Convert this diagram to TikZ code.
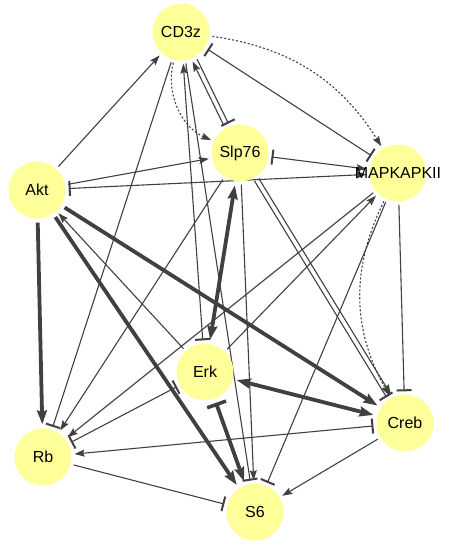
\documentclass[tikz,border=0pt]{standalone}
\usepackage{fontspec}
\setmainfont{Liberation Sans}
\usetikzlibrary{arrows.meta,backgrounds}
\definecolor{nodefill}{RGB}{255,255,153}
\definecolor{edgec}{RGB}{64,64,64}
\tikzset{
  act/.tip={Stealth[length=10bp,width=7bp,inset=1.5bp]},
  inh/.tip={Bar[width=15bp,line width=2bp]},
  actT/.tip={Stealth[length=14bp,width=10bp,inset=2bp]},
  inhT/.tip={Bar[width=20bp,line width=3.5bp]}
}
\begin{document}
\begin{tikzpicture}[x=1bp,y=1bp,
  gene/.style={circle,fill=nodefill,draw=none,minimum size=57bp,inner sep=0pt},
  lbl/.style={font=\fontsize{16bp}{19bp}\selectfont,text=black,inner sep=0pt},
  ln/.style={draw=edgec,line width=1.1bp,shorten >=3bp,shorten <=3bp},
  lnthick/.style={draw=edgec,line width=3.8bp,shorten >=4bp,shorten <=4bp},
  dots/.style={ln,dash pattern=on 2bp off 2bp}
]
\useasboundingbox (0,0) rectangle (450,547);
\node[gene,label={[lbl]center:CD3z}] (CD3z) at (181,515) {};
\node[gene,label={[lbl]center:Slp76}] (Slp76) at (240,394) {};
\node[gene,label={[lbl]center:MAPKAPKII}] (MAPK) at (398,374) {};
\node[gene,label={[lbl]center:Akt}] (Akt) at (37,357) {};
\node[gene,label={[lbl]center:Erk}] (Erk) at (205,175) {};
\node[gene,label={[lbl]center:Rb}] (Rb) at (43,90) {};
\node[gene,label={[lbl]center:S6}] (S6) at (255,35) {};
\node[gene,label={[lbl]center:Creb}] (Creb) at (405,124) {};
\begin{scope}[on background layer]
% thin edges
\draw[ln,-act] (Akt) -- (CD3z);
\draw[ln,-act] (Akt) -- (Slp76);
\draw[ln,inh-act] (Akt) -- (MAPK);
\draw[ln,inh-act] (Slp76) -- (MAPK);
\draw[ln,inh-inh] (CD3z) -- (MAPK);
\draw[dots,-act] (CD3z) to[bend left=25] (MAPK);
\draw[dots,-act] (CD3z) to[bend right=40] (Slp76);
\draw[ln,-act] (Slp76.121) -- (CD3z.-69);
\draw[ln,-inh] (CD3z.-59) -- (Slp76.111);
\draw[ln,act-inh] (CD3z) -- (Erk);
\draw[ln,-inh] (CD3z) -- (S6);
\draw[ln,-inh] (CD3z) -- (Rb);
\draw[ln,-act] (Slp76) -- (Rb);
\draw[ln,-act] (Slp76) -- (S6);
\draw[ln,-act] (Slp76.-53.6) -- (Creb.116.4);
\draw[ln,-inh] (Slp76.-63.6) -- (Creb.126.4);
\draw[ln,-act] (Erk) -- (MAPK);
\draw[ln,-act] (MAPK) -- (Rb);
\draw[ln,-inh] (MAPK) -- (S6);
\draw[ln,-inh] (MAPK) -- (Creb);
\draw[dots,-act] (MAPK) to[bend right=28] (Creb);
\draw[ln,-act] (Erk) -- (Akt);
\draw[ln,inh-inh] (Rb) -- (Erk);
\draw[ln,inh-act] (Creb) -- (Rb);
\draw[ln,-act] (Creb) -- (S6);
\draw[ln,-inh] (Rb) -- (S6);
% thick edges
\draw[lnthick,-actT] (Akt) -- (Rb);
\draw[lnthick,-actT] (Akt) -- (Creb);
\draw[lnthick,-actT] (Akt) -- (S6);
\draw[lnthick,actT-actT] (Erk) -- (Slp76);
\draw[lnthick,actT-actT] (Erk) -- (Creb);
\draw[lnthick,inhT-actT] (Erk) -- (S6);
\end{scope}
\end{tikzpicture}
\end{document}
